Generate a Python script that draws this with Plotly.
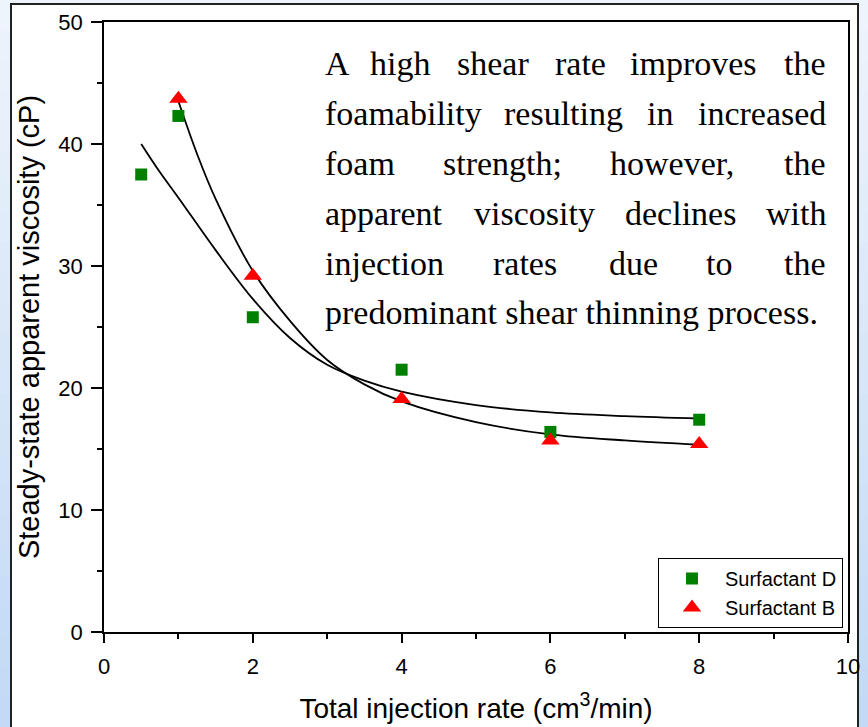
import numpy as np
import plotly.graph_objects as go

# ---- data ----
rate_D = [0.5, 1, 2, 4, 6, 8]
visc_D = [37.5, 42.3, 25.8, 21.5, 16.4, 17.4]
rate_B = [1, 2, 4, 6, 8]
visc_B = [43.7, 29.2, 19.1, 15.7, 15.4]

# fitted decay curves as drawn in the reference
fit_D_x = [0.5, 0.75, 1.0, 1.5, 2.0, 2.5, 3.0, 3.5, 4.0, 5.0, 6.0, 7.0, 8.0]
fit_D_y = [40.0, 37.7, 35.6, 31.3, 27.3, 24.1, 21.9, 20.6, 19.7, 18.6, 18.0, 17.7, 17.5]
fit_B_x = [1.0, 1.25, 1.5, 2.0, 2.5, 3.0, 3.5, 4.0, 5.0, 6.0, 7.0, 8.0]
fit_B_y = [43.5, 39.2, 35.5, 29.6, 25.5, 22.3, 20.3, 18.9, 17.2, 16.2, 15.7, 15.35]

x_ticks = [0, 2, 4, 6, 8, 10]
y_ticks = [0, 10, 20, 30, 40, 50]

note_lines = [
    ["A", "high", "shear", "rate", "improves", "the"],
    ["foamability", "resulting", "in", "increased"],
    ["foam", "strength;", "however,", "the"],
    ["apparent", "viscosity", "declines", "with"],
    ["injection", "rates", "due", "to", "the"],
    ["predominant shear thinning process."],
]

# ---- layout geometry (pixels) ----
W, H = 868, 727
L, R, T, B = 104, 848, 22, 632


def px(p):
    return (p - L) / (R - L)


def py(p):
    return (B - p) / (B - T)


fig = go.Figure()
fig.add_trace(go.Scatter(x=fit_D_x, y=fit_D_y, mode="lines",
                         line=dict(color="black", width=1.8, shape="spline", smoothing=1.0),
                         showlegend=False, hoverinfo="skip"))
fig.add_trace(go.Scatter(x=fit_B_x, y=fit_B_y, mode="lines",
                         line=dict(color="black", width=1.8, shape="spline", smoothing=1.0),
                         showlegend=False, hoverinfo="skip"))
fig.add_trace(go.Scatter(x=rate_D, y=visc_D, mode="markers", name="Surfactant D",
                         marker=dict(symbol="square", size=12, color="#008000")))
fig.add_trace(go.Scatter(x=rate_B, y=visc_B, mode="markers", name="Surfactant B",
                         marker=dict(symbol="triangle-up", size=16, color="#ff0000")))

# justified text block (one annotation per word to mimic justification)
left_px, right_px = 323, 828
baselines = [74, 124, 174, 224, 274, 324]
mid_centers = [
    [400, 493, 580, 693],
    [563, 660],
    [502, 672],
    [534, 680],
    [525, 633, 719],
    [],
]
annos = []
serif = dict(family="Liberation Serif, Times New Roman, serif", size=34, color="black")
for words, base, mids in zip(note_lines, baselines, mid_centers):
    yy = py(base - 11)
    annos.append(dict(x=px(left_px), y=yy, xref="paper", yref="paper", text=words[0],
                      showarrow=False, xanchor="left", yanchor="middle", font=serif))
    if len(words) == 1:
        continue
    for w, c in zip(words[1:-1], mids):
        annos.append(dict(x=px(c), y=yy, xref="paper", yref="paper", text=w,
                          showarrow=False, xanchor="center", yanchor="middle", font=serif))
    annos.append(dict(x=px(right_px), y=yy, xref="paper", yref="paper", text=words[-1],
                      showarrow=False, xanchor="right", yanchor="middle", font=serif))

# page background: light blue gradient bands with a white framed panel
shapes = []
n_strips = 24
top_col = np.array([0xee, 0xf4, 0xfc])
bot_col = np.array([0xc2, 0xda, 0xf5])
for i in range(n_strips):
    f = i / (n_strips - 1)
    c = (top_col * (1 - f) + bot_col * f).astype(int)
    col = "rgb(%d,%d,%d)" % tuple(c)
    y_top = i * H / n_strips
    y_bot = (i + 1) * H / n_strips + 1
    shapes.append(dict(type="rect", xref="paper", yref="paper", layer="below",
                       x0=px(0), x1=px(W), y0=py(y_bot), y1=py(y_top),
                       fillcolor=col, line=dict(width=0)))
shapes.append(dict(type="rect", xref="paper", yref="paper", layer="below",
                   x0=px(11), x1=px(858), y0=py(740), y1=py(4),
                   fillcolor="white", line=dict(color="#222222", width=2)))

sans = "Liberation Sans, Arial, sans-serif"
fig.update_layout(
    width=W, height=H,
    margin=dict(l=L, r=W - R, t=T, b=H - B, pad=0, autoexpand=False),
    paper_bgcolor="#dbe8f8",
    plot_bgcolor="white",
    showlegend=True,
    legend=dict(x=px(658), y=py(558), xanchor="left", yanchor="top",
                bordercolor="black", borderwidth=1, bgcolor="white",
                font=dict(family=sans, size=20, color="black"),
                itemwidth=56, tracegroupgap=0),
    annotations=annos,
    shapes=shapes,
    xaxis=dict(range=[0, 10], tickvals=x_ticks, ticktext=[str(v) for v in x_ticks],
               automargin=False,
               showgrid=False, zeroline=False, showline=True, linecolor="black", linewidth=1.5,
               mirror=True, ticks="outside", ticklen=9, tickwidth=1.5, tickcolor="black",
               ticklabelstandoff=5,
               minor=dict(dtick=1, ticks="outside", ticklen=5, tickwidth=1.5, tickcolor="black"),
               tickfont=dict(family=sans, size=22, color="black"),
               title=dict(text="Total injection rate (cm<sup>3</sup>/min)",
                          font=dict(family=sans, size=28, color="black"), standoff=20)),
    yaxis=dict(range=[0, 50], tickvals=y_ticks, ticktext=[str(v) for v in y_ticks],
               automargin=False,
               showgrid=False, zeroline=False, showline=True, linecolor="black", linewidth=1.5,
               mirror=True, ticks="outside", ticklen=11, tickwidth=1.5, tickcolor="black",
               ticklabelstandoff=4,
               minor=dict(dtick=5, ticks="outside", ticklen=5, tickwidth=1.5, tickcolor="black"),
               tickfont=dict(family=sans, size=22, color="black"),
               title=dict(text="Steady-state apparent viscosity (cP)",
                          font=dict(family=sans, size=29, color="black"), standoff=10)),
)

fig.write_html("out.html")
